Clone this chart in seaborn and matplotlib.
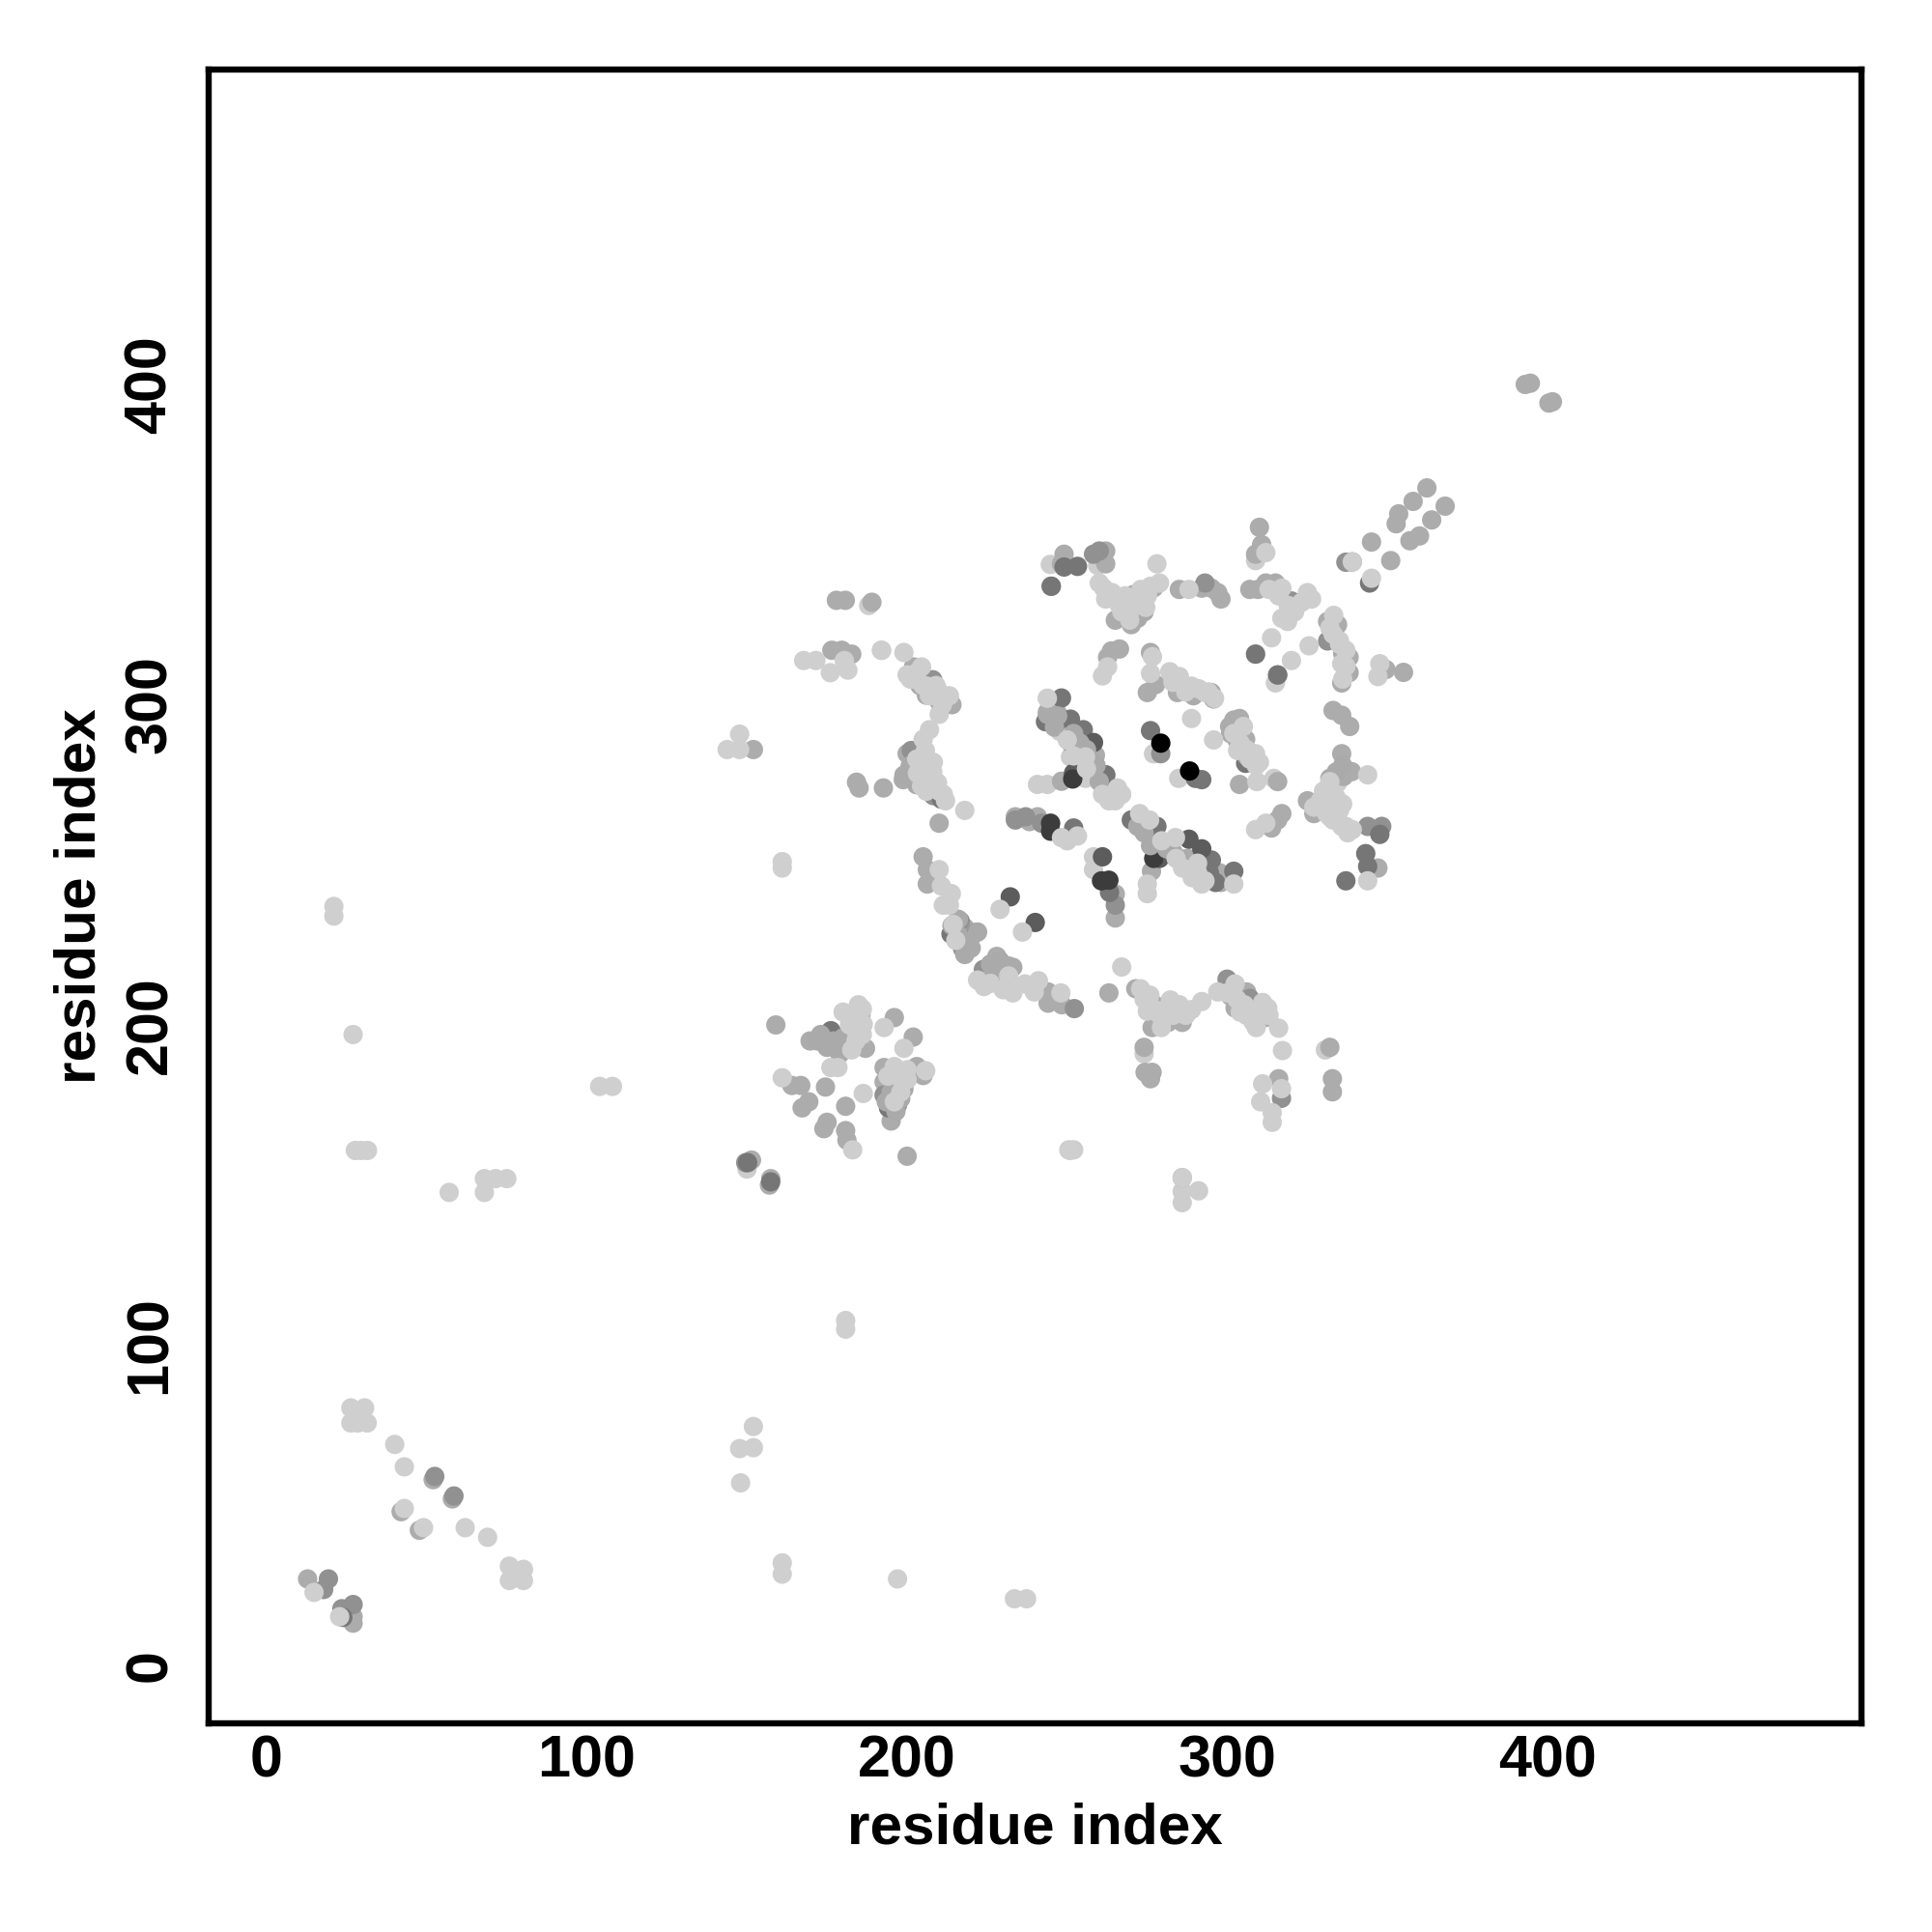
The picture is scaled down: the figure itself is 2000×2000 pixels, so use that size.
import matplotlib
matplotlib.use("Agg")
import matplotlib.pyplot as plt
import pandas as pd
import seaborn as sns

sns.set_style("white")
plt.rcParams["font.family"] = ["Liberation Sans", "DejaVu Sans"]

# contact points, one pair of lists per grey level
# (lists further down get drawn on top)
light_back_x = [188, 244.7, 259.5, 308.8, 330.6, 274, 308.8, 277, 255.7, 251, 247.6, 243.8, 240.7, 250, 258.2, 258.2,
                150, 277, 284.8, 243.8, 285.9, 291, 285.9, 192, 315, 329.5, 334.4, 331.3, 314.5]
light_back_y = [331, 343.8, 343.5, 315.8, 192.2, 191, 345, 284.7, 277, 283.7, 291.7, 302, 275.1, 257.5, 252.5, 248.5,
                155, 284.7, 277, 275.1, 148, 148.2, 144.5, 317, 306.8, 269, 275.6, 273.6, 277]

mid_x = [177.9, 180.7, 189, 249, 248.2, 262, 262, 265, 270, 270.7, 277, 285, 292, 295, 297, 298, 310, 310.7, 308.8,
         307, 309.5, 312, 315, 331.3, 334.4, 338, 335.7, 349.5, 355, 345, 351, 357, 360, 358, 362.3, 368, 363.8,
         353.5, 352.7, 393, 394.6, 400.4, 401.5, 202, 214, 200, 198.8, 200.7, 184.2, 185, 192.6, 210, 243.8, 247,
         251.3, 258.8, 258.2, 248.2, 262.6, 233.8, 240.7, 238.2, 265, 265, 277, 276.3, 287.6, 297.6, 298, 263.8,
         266.3, 262.6, 276, 275, 277.6, 284.4, 289.4, 295, 295.7, 302, 303.8, 300.7, 305.7, 303.8, 315.7, 333, 335.7,
         338.2, 335.7, 338.8, 336.3, 333.2, 325, 327, 347, 317, 315.7, 313.8, 205, 206.3, 206.3, 218, 219.5, 228,
         231.7, 244, 244, 248.3, 263, 271.4, 277.2, 276.5, 281.5, 285.9, 302.4, 306, 311.8, 274, 274.3, 276.5, 276,
         332, 332.8, 332.8, 316, 159, 169.7, 181.2, 183.4, 185.6, 187, 196, 201.9, 164, 166.8, 174.5, 169.3, 167.2,
         180.8, 175, 174, 180.8, 181.2, 192.8, 202, 205, 192.8, 195, 200, 197.8, 151.4, 157.4, 157, 285.9, 176.5,
         179.6, 182.7, 152, 52, 58, 42, 47.7, 12.8, 27, 27]
mid_y = [332.6, 332.6, 332, 347, 344, 348, 344, 326.4, 325, 334.4, 336.5, 336, 336.4, 336.4, 335, 333, 355.4, 350, 347,
         336, 336, 338, 338, 326, 325, 314.8, 306.8, 311, 310.1, 350.8, 345, 351.2, 352.7, 363.5, 367.7, 362, 357.7,
         359.6, 356.5, 400, 400.4, 394.2, 394.6, 311.8, 300, 284.7, 276.6, 279.6, 275.8, 274, 274, 263, 297.7, 297.2,
         287.7, 284.2, 280.1, 276.1, 275.1, 265, 265, 263.5, 240.9, 233.4, 258.5, 248, 252, 247.5, 244.5, 316.8,
         317.4, 314.8, 316.3, 303.8, 306.3, 303.8, 302.8, 303.8, 301.8, 295.2, 295.7, 293.2, 289.2, 275.1, 276, 298.2,
         296.7, 293.2, 284.7, 279.1, 277.6, 270.6, 270, 266, 249, 266, 264, 261.5, 252.5, 248.5, 244, 230.4, 226.4,
         221.4, 218.4, 210.3, 206.8, 206.3, 210, 211.3, 206.3, 199.2, 200.8, 200.8, 205.3, 210.3, 202.3, 193, 185.2,
         185.2, 183.2, 193, 183.2, 179.1, 183.2, 200, 195, 197.2, 202.3, 203.3, 192.7, 202.3, 196.2, 181.1, 181.1,
         180.6, 176, 174.1, 174.6, 169.6, 167.6, 167, 164, 186.7, 185.7, 184.2, 182.2, 170, 159, 178.1, 157.8, 152,
         150, 152.3, 317, 317, 315.8, 286, 58, 52, 48, 42.2, 27, 15.2, 13.2]

grey_x = [258.2, 293, 260, 320, 339, 331.3, 337, 208, 201.3, 208.2, 223.8, 216.6, 221.6, 217.3, 252.2, 299.9, 307,
          245, 149.6, 192.8, 197, 316.9, 52.5, 58.5, 19.3, 17.8, 27, 23.5, 233.8, 263.8, 237, 242, 315.7, 343.8,
          348.2, 265, 279.2, 262]
grey_y = [347, 338, 348, 332.4, 344.6, 319.9, 344.5, 307.8, 285.7, 271.6, 217.3, 232.4, 228.9, 223.9, 205.1, 214.3,
          208.3, 337, 157, 178.1, 175, 177.1, 59, 52.9, 27, 23.7, 19, 17.7, 264, 271, 265, 263, 309.3, 262, 262,
          237.4, 284.7, 278.1]

dark_x = [245, 249, 253.2, 344.4, 308.8, 315.7, 248.2, 243.2, 247, 251, 255, 262, 252, 276, 292, 290, 270, 278,
          263.2, 213.7, 227.4, 176.2, 174, 175.5, 178.4, 194.2, 157.4, 150.2, 343.2, 337, 347.6, 343.8, 296.3, 302,
          294.4, 295, 252, 23.8, 305.7, 210.7]
dark_y = [337, 343, 343.2, 338, 315.8, 309.3, 302.1, 294.7, 294.7, 295.5, 292.2, 278.1, 278.6, 291.9, 276.6, 277,
          264, 262, 241.4, 228.4, 213.3, 198.2, 196.2, 194.2, 192.2, 174.1, 151, 157, 253.5, 245, 259.5, 249.5, 244.5,
          248, 247.5, 251.5, 261.5, 15, 281.7, 270.5]

darker_x = [258.2, 261, 288, 292, 278.8, 232.2, 240, 252]
darker_y = [288.2, 252.5, 258, 255, 252, 240, 232, 278.6]

darkest_x = [251.7, 244.8, 244.8, 260.7, 263, 277]
darkest_y = [276.8, 263, 260.5, 245, 245.2, 252]

black_x = [288.2, 279.2]
black_y = [279.3, 288]

# mid greys that sit over the darker points in the crowded parts
mid_top_x = [172, 173, 175, 177, 179, 180, 182, 193.5, 195, 196.5, 198, 199, 200, 201, 203, 216, 218, 220, 222, 214,
             216, 218, 226, 228, 230, 225, 229, 233, 267, 268, 272, 274, 199, 201, 203, 204, 206, 210, 332, 334, 336,
             272, 274, 276, 279, 281, 283, 285, 252, 254, 256, 257, 259, 260, 301, 304, 303, 306, 301, 336, 338,
             243.8, 247, 246]
mid_top_y = [195, 197, 193, 195, 191, 196, 194, 176, 179, 173, 177, 180, 183, 186, 187, 228, 226, 224, 229, 231, 233,
             222, 219, 216, 213, 214, 220, 218, 328, 330, 327, 329, 278, 281, 275, 306, 303, 301, 277, 279, 281, 262,
             260, 256, 257, 255, 254, 252, 291, 288, 286, 283, 281, 276, 209, 206, 289, 284, 291, 316, 310,
             297, 296.5, 293]

light_top_x = [260, 261.3, 263.2, 265, 266.3, 269.5, 269.5, 272, 275, 274.5, 278.8, 278, 288, 312, 317, 323.2, 325,
               326.3, 318.8, 317, 313.8, 320, 325.5, 333.2, 335, 335.7, 347.6, 347, 339, 345, 199, 192, 204.5, 200,
               203, 207, 206.3, 209.5, 213.2, 210, 207, 205, 205.7, 208.2, 203.2, 206.3, 204.5, 209.5, 211.3, 218,
               243.8, 255.7, 265.7, 248.2, 253.2, 272.6, 275.7, 279.5, 283.8, 275, 275, 290.7, 302, 290.7, 262.6, 261,
               276.6, 276, 282, 285, 288.8, 293, 305, 303.2, 308.8, 310, 309.2, 288.8, 295.7, 343.8, 331.3, 332, 335.7,
               337.6, 343.8, 308.8, 312, 210, 210.7, 213.8, 213.2, 211.3, 229, 236, 267, 214.4, 215.2, 231.7, 236.8,
               241, 248, 239.7, 272.9, 275.8, 275, 279.4, 282.2, 285, 288.8, 292, 297, 302.4, 305.3, 310.4, 312.6, 309,
               316, 317.2, 311, 310.4, 316.9, 314, 314, 184.8, 184, 186.3, 182.7, 192.8, 199, 178.4, 176.2, 161, 183,
               186.3, 196.4, 205.8, 198.6, 250.5, 252, 285.9,
               180, 182, 184, 186, 186, 184, 194, 196, 198, 200, 198, 196, 200, 222, 224, 226, 230, 233,
               262, 264, 267, 268, 271, 273, 276, 203, 205, 207, 208, 206, 210, 212, 201, 203, 205, 207, 209, 211,
               327, 329, 331, 333, 335, 337, 339, 330, 332, 334, 336, 284, 286, 289, 292, 293,
               250, 252, 256, 261, 263, 265, 267, 274, 277, 279, 281, 283, 286, 287,
               300, 303, 304, 306, 308, 309, 311, 313, 302, 304, 306, 307, 309, 283, 287, 291, 294, 296,
               313, 316, 319, 321, 333, 335, 337, 337, 336, 332]
light_top_y = [338, 336.5, 334.4, 333, 331, 329, 326.4, 332, 334, 330.4, 338, 344, 336, 347.5, 336.4, 332, 335, 333,
               326, 327, 320.9, 313.8, 318.4, 327.9, 318.9, 312.8, 312.8, 308.8, 344.6, 339.5, 316.3, 317, 311.8, 309.3,
               307.8, 302.8, 305.8, 304.8, 302.8, 297, 292.2, 289.2, 285.7, 282, 278.6, 276.6, 274.6, 275.6, 272, 267,
               302, 283.7, 274, 258.5, 259, 266, 264, 257.5, 258.5, 244, 241, 250.5, 244, 247.5, 311.8, 309, 315, 309.8,
               310.3, 308.8, 305.8, 303.8, 293.2, 285.7, 284.7, 282, 276, 295.7, 289, 278.1, 273.6, 265, 262, 260, 245,
               261, 263, 248.5, 243.4, 241, 237.4, 237.4, 236.1, 229, 218.1, 231.4, 226.4, 215.3, 212.8, 213.8, 210,
               210.3, 211.3, 209.3, 204.3, 199.2, 207.8, 206.3, 204.8, 207.3, 210.3, 212.8, 206.3, 205.3, 205.3, 199.2,
               199, 192, 181.6, 176, 180.1, 172.6, 169.6, 206.3, 198.2, 200.2, 192.2, 199.2, 192.7, 186.7, 186.7, 183.5,
               161, 178.6, 186.2, 185.7, 182.2, 161, 161, 152.3,
               204, 200, 195, 205, 197, 201, 184, 187, 184, 186, 179, 176, 183, 214, 212, 213, 211, 210,
               333, 335, 329, 334, 331, 336, 337, 283, 280, 281, 279, 273, 273, 270, 308, 310, 306, 303, 306, 300,
               268, 270, 266, 264, 267, 262, 261, 273, 276, 271, 269, 252, 249, 246, 244, 245,
               289, 284, 280, 272, 270, 270, 272, 208, 205, 203, 205, 203, 205, 203,
               210, 208, 204, 203, 201, 203, 207, 203, 291, 288, 286, 283, 281, 307, 304, 305, 304, 302,
               336, 334, 331, 329, 322, 320, 317, 312, 308, 324]

# points away from the dense part, all the light grey
sparse_x = [21, 21, 27, 27.7, 29.5, 31.5, 57, 68, 68, 71.5, 75, 104, 108, 148, 147.7, 152, 152, 180.8, 180.8, 161, 161,
            197, 233.5, 237.3, 161, 161, 143.8, 147.7, 147.7, 250.8, 167.7, 171.5, 176, 181.5, 180.4, 26.3, 30.6, 26.3,
            31.4, 28.5, 40, 43, 43, 49, 62, 69, 75.8, 80.2, 75.8, 80.2, 78, 14.8, 22.8]
sparse_y = [237, 234, 197, 160.8, 160.8, 160.8, 147.7, 147.7, 152, 152, 152, 180.8, 180.8, 57, 67.7, 68, 74.6, 107.7,
            105, 32, 28.5, 27, 20.8, 20.8, 251, 249, 286, 290.8, 286, 160.8, 313.8, 313.8, 310, 310.8, 313.8, 80.4, 80.4,
            75.7, 75.7, 75.7, 69, 62, 49, 43, 43, 40, 31, 30, 26.5, 26.5, 28, 22.8, 15.2]

tick_values = [0, 100, 200, 300, 400]

layers = [
    (205, light_back_x, light_back_y),
    (172, mid_x, mid_y),
    (145, grey_x, grey_y),
    (118, dark_x, dark_y),
    (92, darker_x, darker_y),
    (60, darkest_x, darkest_y),
    (0, black_x, black_y),
    (170, mid_top_x, mid_top_y),
    (206, light_top_x, light_top_y),
    (207, sparse_x, sparse_y),
]

frames = []
for level, xs, ys in layers:
    frames.append(pd.DataFrame({"x": xs, "y": ys, "level": level}))
df = pd.concat(frames, ignore_index=True)

palette = {}
for level, xs, ys in layers:
    palette[level] = (level / 255, level / 255, level / 255)

fig = plt.figure(figsize=(10, 10), dpi=200)
ax = fig.add_axes([216 / 2000, 216 / 2000, 1711 / 2000, 1712.5 / 2000])

sns.scatterplot(data=df, x="x", y="y", hue="level", palette=palette, s=52, linewidth=0, legend=False, ax=ax)

ax.set_xlim(-18.1, 498)
ax.set_ylim(-18.1, 498.5)
ax.set_xticks(tick_values)
ax.set_yticks(tick_values)
ax.tick_params(axis="x", length=3.2, width=1.4, pad=1, labelsize=22, color="black", labelcolor="black")
ax.tick_params(axis="y", length=3.2, width=1.4, pad=8, labelsize=22, color="black", labelcolor="black")
for lab in ax.get_xticklabels():
    lab.set_fontweight("bold")
for lab in ax.get_yticklabels():
    lab.set_fontweight("bold")
    lab.set_rotation(90)
    lab.set_va("center")

ax.set_xlabel("residue index", fontsize=21.7, fontweight="bold", color="black")
ax.set_ylabel("residue index", fontsize=21.7, fontweight="bold", color="black")
ax.xaxis.set_label_coords(0.5, -0.0475)
ax.yaxis.set_label_coords(-0.0615, 0.5)

for side in ax.spines.values():
    side.set_linewidth(2.3)
    side.set_color("black")

fig.savefig("out.png", dpi=200)
